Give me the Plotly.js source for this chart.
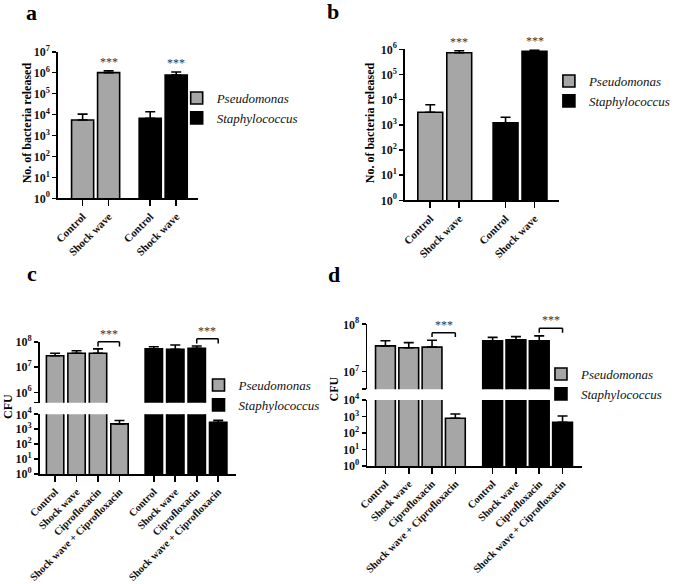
<!DOCTYPE html>
<html><head><meta charset="utf-8">
<script src="https://cdn.plot.ly/plotly-3.0.1.min.js"></script>
<style>html,body{margin:0;padding:0;background:#fff}#chart{width:675px;height:584px}</style>
</head><body><div id="chart"></div>
<script>
// ---------------- data ----------------
const speciesNames = ['Pseudomonas', 'Staphylococcus'];
const releaseLabels = ['Control', 'Shock wave'];
const cfuLabels = ['Control', 'Shock wave', 'Ciprofloxacin', 'Shock wave + Ciprofloxacin'];

// panel a: No. of bacteria released
const aPseudoMean = [5500, 1.0e6];
const aPseudoErr  = [5000, 2.3e5];
const aStaphMean  = [6600, 7.6e5];
const aStaphErr   = [7000, 3.1e5];

// panel b: No. of bacteria released
const bPseudoMean = [3150, 7.3e5];
const bPseudoErr  = [3150, 1.5e5];
const bStaphMean  = [1210, 8.3e5];
const bStaphErr   = [780, 1.1e5];

// panel c: CFU
const cPseudoMean = [2.8e7, 3.5e7, 3.5e7, 2300];
const cPseudoErr  = [0.7e7, 0.9e7, 1.7e7, 1500];
const cStaphMean  = [5.2e7, 5.0e7, 5.5e7, 2900];
const cStaphErr   = [1.1e7, 2.4e7, 1.3e7, 1100];

// panel d: CFU
const dPseudoMean = [3.5e7, 3.2e7, 3.3e7, 780];
const dPseudoErr  = [1.0e7, 0.9e7, 1.3e7, 640];
const dStaphMean  = [4.5e7, 4.7e7, 4.5e7, 450];
const dStaphErr   = [0.8e7, 0.8e7, 1.2e7, 620];

// significance
const sigReleaseIndex = 1;            // shock wave vs control
const sigCfuPair = [2, 3];            // ciprofloxacin vs shock wave + ciprofloxacin
const sigText = '***';

// ---------------- helpers ----------------
const W = 675, H = 584;
const fx = p => p / W;
const fy = p => 1 - p / H;
const GAP = 0.6;
const FONT = "'Liberation Serif', 'Times New Roman', Times, serif";
const GREY = '#a6a6a6', BLACK = '#000000';
const colors = [GREY, BLACK];

function positions(n, s) { return Array.from({length: n}, (_, i) => i + s * (n + GAP)); }
function logTicks(lo, hi) {
  const v = [], t = [];
  for (let k = lo; k <= hi; k++) { v.push(Math.pow(10, k)); t.push('10<sup>' + k + '</sup>'); }
  return {v, t};
}

function barTrace(s, mean, err, xa, ya, width, legend, showlegend) {
  return {
    type: 'bar', name: speciesNames[s],
    x: positions(mean.length, s), y: mean, width: width,
    xaxis: xa, yaxis: ya, legend: legend, showlegend: showlegend,
    marker: {color: colors[s], line: {color: '#000', width: 1.6}},
    error_y: {type: 'data', symmetric: false, array: err, arrayminus: mean.map(() => 0),
              color: '#000', thickness: 1.6, width: 5},
    hoverinfo: 'skip'
  };
}

const traces = [
  barTrace(0, aPseudoMean, aPseudoErr, 'x', 'y', 0.85, 'legend', true),
  barTrace(1, aStaphMean, aStaphErr, 'x', 'y', 0.85, 'legend', true),
  barTrace(0, bPseudoMean, bPseudoErr, 'x2', 'y2', 0.86, 'legend2', true),
  barTrace(1, bStaphMean, bStaphErr, 'x2', 'y2', 0.86, 'legend2', true),
  barTrace(0, cPseudoMean, cPseudoErr, 'x3', 'y3', 0.81, 'legend3', true),
  barTrace(1, cStaphMean, cStaphErr, 'x3', 'y3', 0.81, 'legend3', true),
  barTrace(0, cPseudoMean, cPseudoErr, 'x3', 'y4', 0.81, 'legend3', false),
  barTrace(1, cStaphMean, cStaphErr, 'x3', 'y4', 0.81, 'legend3', false),
  barTrace(0, dPseudoMean, dPseudoErr, 'x4', 'y5', 0.85, 'legend4', true),
  barTrace(1, dStaphMean, dStaphErr, 'x4', 'y5', 0.85, 'legend4', true),
  barTrace(0, dPseudoMean, dPseudoErr, 'x4', 'y6', 0.85, 'legend4', false),
  barTrace(1, dStaphMean, dStaphErr, 'x4', 'y6', 0.85, 'legend4', false)
];

const yTickFont = {family: FONT, size: 12, color: '#111', weight: 'bold'};

function xAxis(domain, range, anchor, labels, size) {
  const n = labels.length;
  return {
    domain: domain, range: range, anchor: anchor,
    tickmode: 'array', tickvals: positions(n, 0).concat(positions(n, 1)),
    ticktext: labels.concat(labels), tickangle: -45,
    ticks: 'outside', ticklen: 6, tickwidth: 1.6, tickcolor: '#000',
    showline: true, linecolor: '#000', linewidth: 1.6,
    showgrid: false, zeroline: false, fixedrange: true,
    tickfont: {family: FONT, size: size, color: '#111', weight: 'bold'}
  };
}
function yAxis(domain, lo, hi, anchor, endTick) {
  const t = logTicks(Math.ceil(lo - 1e-9), hi);
  if (endTick !== undefined) { t.v.unshift(Math.pow(10, endTick)); t.t.unshift(''); }
  return {
    type: 'log', domain: domain, range: [lo, hi], anchor: anchor,
    tickmode: 'array', tickvals: t.v, ticktext: t.t,
    ticks: 'outside', ticklen: 4, tickwidth: 1.6, tickcolor: '#000',
    showline: true, linecolor: '#000', linewidth: 1.6,
    showgrid: false, zeroline: false, tickfont: yTickFont, fixedrange: true
  };
}

function legendAt(textX, topY) {
  return {x: fx(textX - 40), y: fy(topY), xanchor: 'left', yanchor: 'top',
          bgcolor: 'rgba(0,0,0,0)', borderwidth: 0, traceorder: 'normal', tracegroupgap: 0,
          font: {family: FONT, size: 13, style: 'italic', color: '#111'}};
}

const annotations = [];
const shapes = [];
function label(text, x, y, size, angle) {
  annotations.push({text: text, xref: 'paper', yref: 'paper', x: fx(x), y: fy(y),
    xanchor: 'center', yanchor: 'middle', showarrow: false, textangle: angle || 0,
    font: {family: FONT, size: size, color: '#000', weight: 'bold'}});
}
label('a', 31.5, 12.5, 22); label('b', 335.5, 11, 22);
label('c', 32, 273, 22);   label('d', 336, 274, 22);
label('No. of bacteria released', 27, 122.5, 12, -90);
label('No. of bacteria released', 373, 123, 12, -90);
label('CFU', 8, 406, 12, -90);
label('CFU', 336, 389, 12, -90);

const starFont = {family: FONT, size: 12, color: '#333'};
function starsAbove(xa, ya, mean, err, n) {
  for (let s = 0; s < 2; s++) {
    const xs = positions(n, s);
    const i = sigReleaseIndex;
    annotations.push({text: sigText, xref: xa, yref: ya, x: xs[i],
      y: Math.log10(mean[s][i] + err[s][i]), xanchor: 'center', yanchor: 'bottom',
      yshift: 0, showarrow: false, font: starFont});
  }
}
starsAbove('x', 'y', [aPseudoMean, aStaphMean], [aPseudoErr, aStaphErr], 2);
starsAbove('x2', 'y2', [bPseudoMean, bStaphMean], [bPseudoErr, bStaphErr], 2);

function bracket(xa, ya, s, n, yLine, yTick) {
  const xs = positions(n, s);
  const x0 = xs[sigCfuPair[0]], x1 = xs[sigCfuPair[1]];
  const yref = ya + ' domain';
  const line = {color: '#000', width: 1.5};
  shapes.push({type: 'line', xref: xa, yref: yref, x0: x0, x1: x1, y0: yLine, y1: yLine, line: line});
  shapes.push({type: 'line', xref: xa, yref: yref, x0: x0, x1: x0, y0: yLine, y1: yTick, line: line});
  shapes.push({type: 'line', xref: xa, yref: yref, x0: x1, x1: x1, y0: yLine, y1: yTick, line: line});
  annotations.push({text: sigText, xref: xa, yref: yref, x: (x0 + x1) / 2, y: yLine,
    xanchor: 'center', yanchor: 'bottom', yshift: -1, showarrow: false, font: starFont});
}
bracket('x3', 'y4', 0, 4, 1.0, 0.92);
bracket('x3', 'y4', 1, 4, 1.05, 0.97);
bracket('x4', 'y6', 0, 4, 0.871, 0.805);
bracket('x4', 'y6', 1, 4, 0.938, 0.871);

const layout = {
  width: W, height: H, margin: {l: 0, r: 0, t: 0, b: 0},
  paper_bgcolor: '#fff', plot_bgcolor: 'rgba(0,0,0,0)',
  barmode: 'overlay', showlegend: true,
  font: {family: FONT, color: '#111'},
  xaxis:  xAxis([fx(58.3), fx(199)], [-0.952, 4.42], 'y', releaseLabels, 11),
  yaxis:  yAxis([fy(198.3), fy(51.7)], 0, 7, 'x'),
  xaxis2: xAxis([fx(408), fx(563)], [-0.874, 4.44], 'y2', releaseLabels, 11),
  yaxis2: yAxis([fy(200.3), fy(49.3)], 0, 6, 'x2'),
  xaxis3: xAxis([fx(40), fx(238)], [-0.717, 8.44], 'y3', cfuLabels, 10.5),
  yaxis3: yAxis([fy(474), fy(414.3)], 0, 4, 'x3'),
  yaxis4: yAxis([fy(402.7), fy(341.7)], 5.59, 8, 'x3', 5.595),
  xaxis4: xAxis([fx(370), fx(586)], [-0.78, 8.42], 'y5', cfuLabels, 10.5),
  yaxis5: yAxis([fy(466), fy(400)], 0, 4, 'x4'),
  yaxis6: yAxis([fy(389.3), fy(324.3)], 6.626, 8, 'x4', 6.631),
  legend:  legendAt(218, 83),
  legend2: legendAt(593, 66),
  legend3: legendAt(240, 370),
  legend4: legendAt(585, 359),
  annotations: annotations,
  shapes: shapes
};

Plotly.newPlot('chart', traces, layout, {displayModeBar: false, staticPlot: true});
</script>
</body></html>
